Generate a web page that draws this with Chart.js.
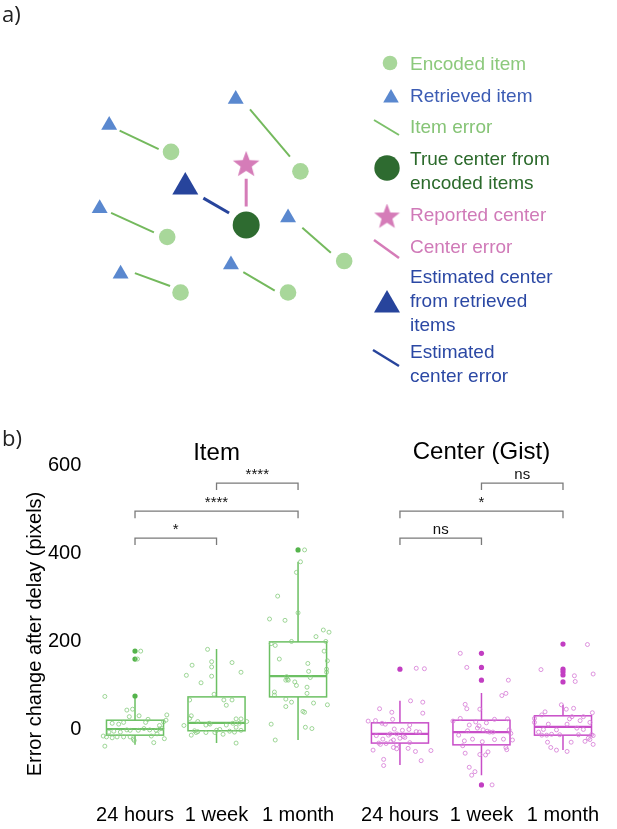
<!DOCTYPE html>
<html>
<head>
<meta charset="utf-8">
<script src="https://cdn.jsdelivr.net/npm/chart.js@4.4.1/dist/chart.umd.min.js"></script>
<style>
  html, body { margin: 0; padding: 0; background: #fff; }
  #wrap { position: relative; width: 617px; height: 829px; overflow: hidden; }
  #chartA { position: absolute; left: 0; top: 0; }
  #chartB { position: absolute; left: 0; top: 400px; }
</style>
</head>
<body>
<div id="wrap">
  <canvas id="chartA" width="617" height="400"></canvas>
  <canvas id="chartB" width="617" height="429"></canvas>
</div>
<script>
// =============== Panel a: schema data ===============
const encodedX = [164, 300, 160, 346, 174, 287];
const encodedY = [148, 169, 240, 266, 300, 300];
const retrievedX = [99, 232, 89, 287, 111, 227];
const retrievedY = [119, 91, 209, 219, 280, 270];
const itemErrStart = [[110, 125], [247, 102], [101, 214], [302, 230], [126, 279], [240, 278]];
const itemErrEnd = [[151, 145], [289, 153], [146, 235], [332, 257], [163, 293], [273, 298]];
const trueCenter = [243, 227];
const reportedCenter = [243, 162];
const estimatedCenter = [179, 186];
const centerErrLine = [[243, 177], [243, 207]];
const estimatedErrLine = [[198, 198], [225, 214]];

const legendLabels = [
  ['Encoded item'],
  ['Retrieved item'],
  ['Item error'],
  ['True center from', 'encoded items'],
  ['Reported center'],
  ['Center error'],
  ['Estimated center', 'from retrieved', 'items'],
  ['Estimated', 'center error'],
];

// =============== Panel b: box plot data ===============
const groupPos = [1, 2, 3, 4.25, 5.25, 6.25];
const groupLabels = ['24 hours', '1 week', '1 month', '24 hours', '1 week', '1 month'];
const yTicks = [0, 200, 400, 600];

const boxQ1 = [-14, -4, 73, -32, -36, -14];
const boxMedian = [0, 14, 120, -11, -7, 5];
const boxQ3 = [20, 73, 198, 14, 20, 30];
const whiskerLow = [-36, -32, -25, -82, -105, -48];
const whiskerHigh = [75, 182, 380, 64, 82, 55];

const outliers = [
  [177, 159, 75],
  [],
  [407],
  [136],
  [172, 140, 111, -127],
  [193, 136, 130, 123, 107],
];

// jittered subjects: [x offset, value]
const item24h = [[-0.37,74],[-0.10,43],[-0.03,45],[0.05,30],[-0.07,28],[-0.28,13],[-0.20,11],[-0.14,15],[0.13,15],[0.16,22],[0.39,32],[0.38,20],[0.35,16],[0.30,8],[0.33,1],[0.26,-3],[0.18,-2],[0.11,1],[0.04,-3],[-0.06,-3],[-0.18,-7],[-0.26,-5],[-0.32,-7],[-0.39,-16],[-0.35,-18],[-0.28,-20],[-0.22,-18],[-0.14,-18],[-0.06,-18],[-0.02,-23],[-0.01,-26],[0.20,-16],[0.36,-22],[0.23,-31],[-0.37,-39],[0.07,177],[0.03,159],[0.27,-11],[0.30,0],[-0.10,-2]];
const item1w = [[-0.11,181],[-0.30,145],[-0.37,122],[-0.06,153],[-0.06,141],[0.19,151],[0.30,129],[-0.06,120],[-0.19,105],[0.12,54],[-0.03,79],[0.09,66],[0.19,66],[-0.33,66],[-0.31,30],[-0.33,24],[-0.40,8],[-0.23,17],[-0.13,9],[-0.09,13],[0.12,9],[0.24,23],[0.30,23],[0.28,13],[0.37,17],[0.20,13],[0.24,4],[0.30,-3],[0.22,-7],[0.16,-5],[0.08,-12],[-0.02,-8],[-0.13,-8],[-0.23,-6],[-0.27,-4],[-0.31,-14],[-0.25,-8],[0.04,-1],[0.24,-32],[0.00,-3],[-0.08,11]];
const item1m = [[0.08,407],[0.03,380],[-0.02,356],[-0.25,302],[0.00,264],[-0.35,250],[-0.16,247],[0.31,225],[0.38,220],[0.22,210],[0.34,199],[-0.08,199],[-0.33,194],[-0.28,190],[0.32,177],[-0.23,159],[0.36,155],[0.12,149],[0.35,136],[0.35,129],[0.13,131],[0.15,117],[-0.14,119],[-0.13,113],[-0.15,111],[-0.12,111],[-0.04,107],[-0.02,99],[0.11,95],[0.11,81],[-0.29,84],[-0.29,77],[-0.15,68],[-0.08,61],[-0.15,51],[0.19,59],[0.36,55],[0.06,40],[0.08,38],[-0.33,11],[0.09,4],[0.17,1],[-0.28,-25]];
const gist24h = [[0.20,138],[0.30,137],[0.13,64],[0.28,61],[-0.25,46],[-0.10,38],[0.28,36],[-0.09,22],[-0.39,18],[-0.30,19],[-0.22,13],[0.12,9],[-0.18,11],[-0.07,0],[0.03,-3],[0.11,-1],[0.20,-6],[0.24,-7],[-0.14,-14],[-0.12,-11],[-0.04,-11],[0.06,-19],[0.00,-21],[-0.21,-23],[-0.08,-25],[-0.11,-29],[-0.17,-33],[-0.24,-35],[-0.04,-36],[0.12,-31],[-0.08,-42],[-0.04,-45],[0.10,-44],[-0.33,-48],[0.19,-51],[0.38,-49],[-0.20,-69],[0.26,-72],[-0.20,-83],[-0.29,-15],[-0.26,-32],[0.04,-17]];
const gist1w = [[-0.26,172],[-0.18,140],[0.33,111],[0.30,81],[0.25,76],[-0.20,56],[-0.18,46],[-0.02,45],[-0.35,18],[-0.26,24],[-0.15,9],[-0.07,16],[-0.03,7],[0.06,14],[0.16,22],[0.32,23],[-0.17,-4],[0.07,-5],[0.10,-7],[0.14,-7],[0.34,-2],[0.36,-10],[-0.28,-14],[-0.11,-23],[0.01,-29],[0.16,-24],[0.27,-23],[0.38,-25],[-0.21,-27],[-0.23,-38],[0.30,-42],[0.31,-47],[-0.20,-55],[0.08,-52],[0.05,-59],[-0.02,-58],[-0.15,-87],[-0.08,-97],[-0.12,-105],[0.13,-127],[-0.05,2],[0.02,-2]];
const gist1m = [[0.30,192],[-0.27,135],[0.14,121],[0.37,125],[0.15,108],[-0.02,55],[0.04,45],[0.13,47],[-0.22,39],[-0.26,32],[0.36,37],[0.11,28],[0.08,23],[0.25,28],[-0.35,24],[-0.35,15],[0.21,19],[0.33,15],[-0.18,11],[0.05,11],[0.17,2],[0.25,-1],[-0.08,-2],[-0.24,-1],[-0.30,-7],[-0.04,-13],[-0.14,-12],[-0.20,-14],[-0.26,-14],[0.19,-13],[0.35,-13],[0.37,-15],[0.31,-21],[0.27,-28],[0.33,-24],[0.10,-30],[-0.19,-30],[-0.15,-42],[-0.08,-48],[0.05,-51],[0.37,-35]];
const jitterGroups = [item24h, item1w, item1m, gist24h, gist1w, gist1m];

// significance brackets
const bracketFrom = [0, 0, 1, 3, 3, 4];
const bracketTo = [1, 2, 2, 4, 5, 5];
const bracketValue = [434, 495, 559, 434, 495, 559];
const bracketText = ['*', '****', '****', 'ns', '*', 'ns'];

// =============== Styles ===============
const FONT = "'Liberation Sans', Arial, sans-serif";
const ITEM_LINE = '#6cc063';
const ITEM_POINT = '#86cc7e';
const ITEM_OUT = '#55b44c';
const GIST_LINE = '#c84ec8';
const GIST_POINT = '#d57ad5';
const GIST_OUT = '#c23ec2';
const BOX_HALF = 0.35;

Chart.defaults.font.family = FONT;
Chart.defaults.animation = false;

// =============== Helpers ===============
function starImage(r, color) {
  const c = document.createElement('canvas');
  c.width = c.height = Math.ceil(r * 2);
  const g = c.getContext('2d');
  g.fillStyle = color;
  g.beginPath();
  for (let i = 0; i < 10; i++) {
    const rad = i % 2 === 0 ? r : r * 0.42;
    const a = -Math.PI / 2 + i * Math.PI / 5;
    const px = r + rad * Math.cos(a);
    const py = r + rad * Math.sin(a);
    if (i === 0) g.moveTo(px, py); else g.lineTo(px, py);
  }
  g.closePath();
  g.fill();
  return c;
}

function segment(p, q, color, width) {
  return {
    data: [{ x: p[0], y: p[1] }, { x: q[0], y: q[1] }],
    showLine: true,
    borderColor: color,
    borderWidth: width,
    pointRadius: 0,
  };
}

function pts(xs, ys) {
  return xs.map((x, i) => ({ x, y: ys[i] }));
}

// =============== Panel a ===============
const pinkStar = starImage(14, '#d57cb8');
const legendStar = starImage(13.5, '#d57cb8');

const legendPlugin = {
  id: 'schemaLegend',
  afterDraw(chart) {
    const ctx = chart.ctx;
    const draw = Chart.helpers.drawPoint;
    ctx.save();
    ctx.font = '22px "Open Sans", sans-serif';
    ctx.fillStyle = '#222';
    ctx.textBaseline = 'middle';
    ctx.fillText('a)', 2, 16);

    const lineSym = (x1, y1, x2, y2, color, w) => {
      ctx.strokeStyle = color;
      ctx.lineWidth = w;
      ctx.beginPath();
      ctx.moveTo(x1, y1);
      ctx.lineTo(x2, y2);
      ctx.stroke();
    };
    const pointSym = (style, r, color, x, y) => {
      ctx.fillStyle = color;
      ctx.strokeStyle = color;
      draw(ctx, { pointStyle: style, radius: r, borderWidth: 0, rotation: 0 }, x, y);
    };

    pointSym('circle', 7.3, '#a8d79a', 390, 63);
    pointSym('triangle', 9, '#5a88cf', 391, 98);
    lineSym(374, 120, 399, 135, '#7cc06a', 2);
    pointSym('circle', 12.7, '#2e6b30', 387, 168);
    ctx.drawImage(legendStar, 387 - 13.5, 217 - 13.5);
    lineSym(374, 240, 399, 258, '#d57cb8', 2.5);
    pointSym('triangle', 15, '#27449c', 387, 305);
    lineSym(373, 350, 399, 366, '#27449c', 2.5);

    const textColors = ['#8cc97c', '#3c5cb4', '#86c476', '#2b6a2b', '#d07ab8', '#d07ab8', '#2b48a4', '#2b48a4'];
    const textY = [65, 97, 128, 160, 216, 248, 278, 353];
    ctx.font = '19px ' + FONT;
    ctx.textAlign = 'left';
    legendLabels.forEach((lines, i) => {
      ctx.fillStyle = textColors[i];
      lines.forEach((t, j) => ctx.fillText(t, 410, textY[i] + j * 24));
    });
    ctx.restore();
  },
};

const schemaSets = [];
itemErrStart.forEach((s, i) => schemaSets.push(segment(s, itemErrEnd[i], '#74b95d', 2)));
schemaSets.push(segment(centerErrLine[0], centerErrLine[1], '#d57cb8', 3));
schemaSets.push(segment(estimatedErrLine[0], estimatedErrLine[1], '#27449c', 3));
schemaSets.push({ data: pts(encodedX, encodedY), pointStyle: 'circle', pointRadius: 8.3, backgroundColor: '#a8d79a', borderWidth: 0 });
schemaSets.push({ data: pts(retrievedX, retrievedY), pointStyle: 'triangle', pointRadius: 9.2, backgroundColor: '#5a88cf', borderWidth: 0 });
schemaSets.push({ data: [{ x: trueCenter[0], y: trueCenter[1] }], pointStyle: 'circle', pointRadius: 13.5, backgroundColor: '#2e6b30', borderWidth: 0 });
schemaSets.push({ data: [{ x: reportedCenter[0], y: reportedCenter[1] }], pointStyle: pinkStar, pointRadius: 14 });
schemaSets.push({ data: [{ x: estimatedCenter[0], y: estimatedCenter[1] }], pointStyle: 'triangle', pointRadius: 15, backgroundColor: '#27449c', borderWidth: 0 });

new Chart(document.getElementById('chartA'), {
  type: 'scatter',
  data: { datasets: schemaSets },
  options: {
    responsive: false,
    layout: { padding: 0 },
    plugins: { legend: { display: false }, tooltip: { enabled: false } },
    scales: {
      x: { type: 'linear', min: 0, max: 617, display: false },
      y: { type: 'linear', min: 0, max: 400, reverse: true, display: false },
    },
  },
  plugins: [legendPlugin],
});

// =============== Panel b ===============
const boxPlugin = {
  id: 'boxes',
  beforeDatasetsDraw(chart) {
    const { ctx, scales: { x, y } } = chart;
    ctx.save();
    groupPos.forEach((gx, i) => {
      const col = i < 3 ? ITEM_LINE : GIST_LINE;
      const l = x.getPixelForValue(gx - BOX_HALF);
      const r = x.getPixelForValue(gx + BOX_HALF);
      const c = x.getPixelForValue(gx);
      const q1 = y.getPixelForValue(boxQ1[i]);
      const q3 = y.getPixelForValue(boxQ3[i]);
      const med = y.getPixelForValue(boxMedian[i]);
      ctx.strokeStyle = col;
      ctx.lineWidth = 1.5;
      ctx.beginPath();
      ctx.moveTo(c, y.getPixelForValue(whiskerHigh[i]));
      ctx.lineTo(c, q3);
      ctx.moveTo(c, q1);
      ctx.lineTo(c, y.getPixelForValue(whiskerLow[i]));
      ctx.stroke();
      ctx.strokeRect(l, q3, r - l, q1 - q3);
      ctx.lineWidth = 2.2;
      ctx.beginPath();
      ctx.moveTo(l, med);
      ctx.lineTo(r, med);
      ctx.stroke();
    });
    ctx.restore();
  },
  afterDraw(chart) {
    const { ctx, scales: { x, y } } = chart;
    ctx.save();
    // brackets
    ctx.strokeStyle = '#7a7a7a';
    ctx.lineWidth = 1.3;
    ctx.fillStyle = '#111';
    ctx.font = '15px ' + FONT;
    ctx.textAlign = 'center';
    ctx.textBaseline = 'alphabetic';
    bracketFrom.forEach((a, i) => {
      const x1 = x.getPixelForValue(groupPos[a]);
      const x2 = x.getPixelForValue(groupPos[bracketTo[i]]);
      const yt = y.getPixelForValue(bracketValue[i]);
      const yb = y.getPixelForValue(bracketValue[i] - 16);
      ctx.beginPath();
      ctx.moveTo(x1, yb);
      ctx.lineTo(x1, yt);
      ctx.lineTo(x2, yt);
      ctx.lineTo(x2, yb);
      ctx.stroke();
      ctx.fillText(bracketText[i], (x1 + x2) / 2, yt - 4.5);
    });
    // panel titles
    ctx.font = '24px ' + FONT;
    ctx.fillStyle = '#000';
    ctx.textBaseline = 'middle';
    ctx.fillText('Item', x.getPixelForValue(groupPos[1]), 53);
    ctx.fillText('Center (Gist)', x.getPixelForValue(groupPos[4]), 52);
    // y title
    ctx.save();
    ctx.translate(35, 234);
    ctx.rotate(-Math.PI / 2);
    ctx.font = '20px ' + FONT;
    ctx.fillText('Error change after delay (pixels)', 0, 0);
    ctx.restore();
    // panel letter
    ctx.font = '22px "Open Sans", sans-serif';
    ctx.fillStyle = '#222';
    ctx.textAlign = 'left';
    ctx.fillText('b)', 2, 40);
    ctx.restore();
  },
};

const boxSets = [];
jitterGroups.forEach((grp, g) => {
  boxSets.push({
    data: grp.map(([dx, v]) => ({ x: groupPos[g] + dx, y: v })),
    pointStyle: 'circle',
    pointRadius: 2,
    borderWidth: 0.8,
    borderColor: g < 3 ? ITEM_POINT : GIST_POINT,
    backgroundColor: 'rgba(0,0,0,0)',
  });
});
outliers.forEach((vals, g) => {
  boxSets.push({
    data: vals.map((v) => ({ x: groupPos[g], y: v })),
    pointStyle: 'circle',
    pointRadius: 2.6,
    borderWidth: 0,
    backgroundColor: g < 3 ? ITEM_OUT : GIST_OUT,
  });
});

new Chart(document.getElementById('chartB'), {
  type: 'scatter',
  data: { datasets: boxSets },
  options: {
    responsive: false,
    layout: { padding: { left: 0, right: 13.25, top: 43, bottom: 0 } },
    plugins: { legend: { display: false }, tooltip: { enabled: false } },
    scales: {
      x: {
        type: 'linear',
        min: 0.5,
        max: 6.75,
        grid: { display: false, drawTicks: false },
        border: { display: false },
        afterBuildTicks: (scale) => { scale.ticks = groupPos.map((v) => ({ value: v })); },
        afterFit: (scale) => { scale.height = 34; },
        ticks: {
          autoSkip: false,
          maxRotation: 0,
          padding: 8,
          color: '#000',
          font: { size: 20 },
          callback: (v, i) => groupLabels[i],
        },
      },
      y: {
        type: 'linear',
        min: -150,
        max: 650,
        grid: { display: false, drawTicks: false },
        border: { display: false },
        afterBuildTicks: (scale) => { scale.ticks = yTicks.map((v) => ({ value: v })); },
        afterFit: (scale) => { scale.width = 94.25; },
        ticks: { padding: 13, color: '#000', font: { size: 20 } },
      },
    },
  },
  plugins: [boxPlugin],
});
</script>
</body>
</html>
